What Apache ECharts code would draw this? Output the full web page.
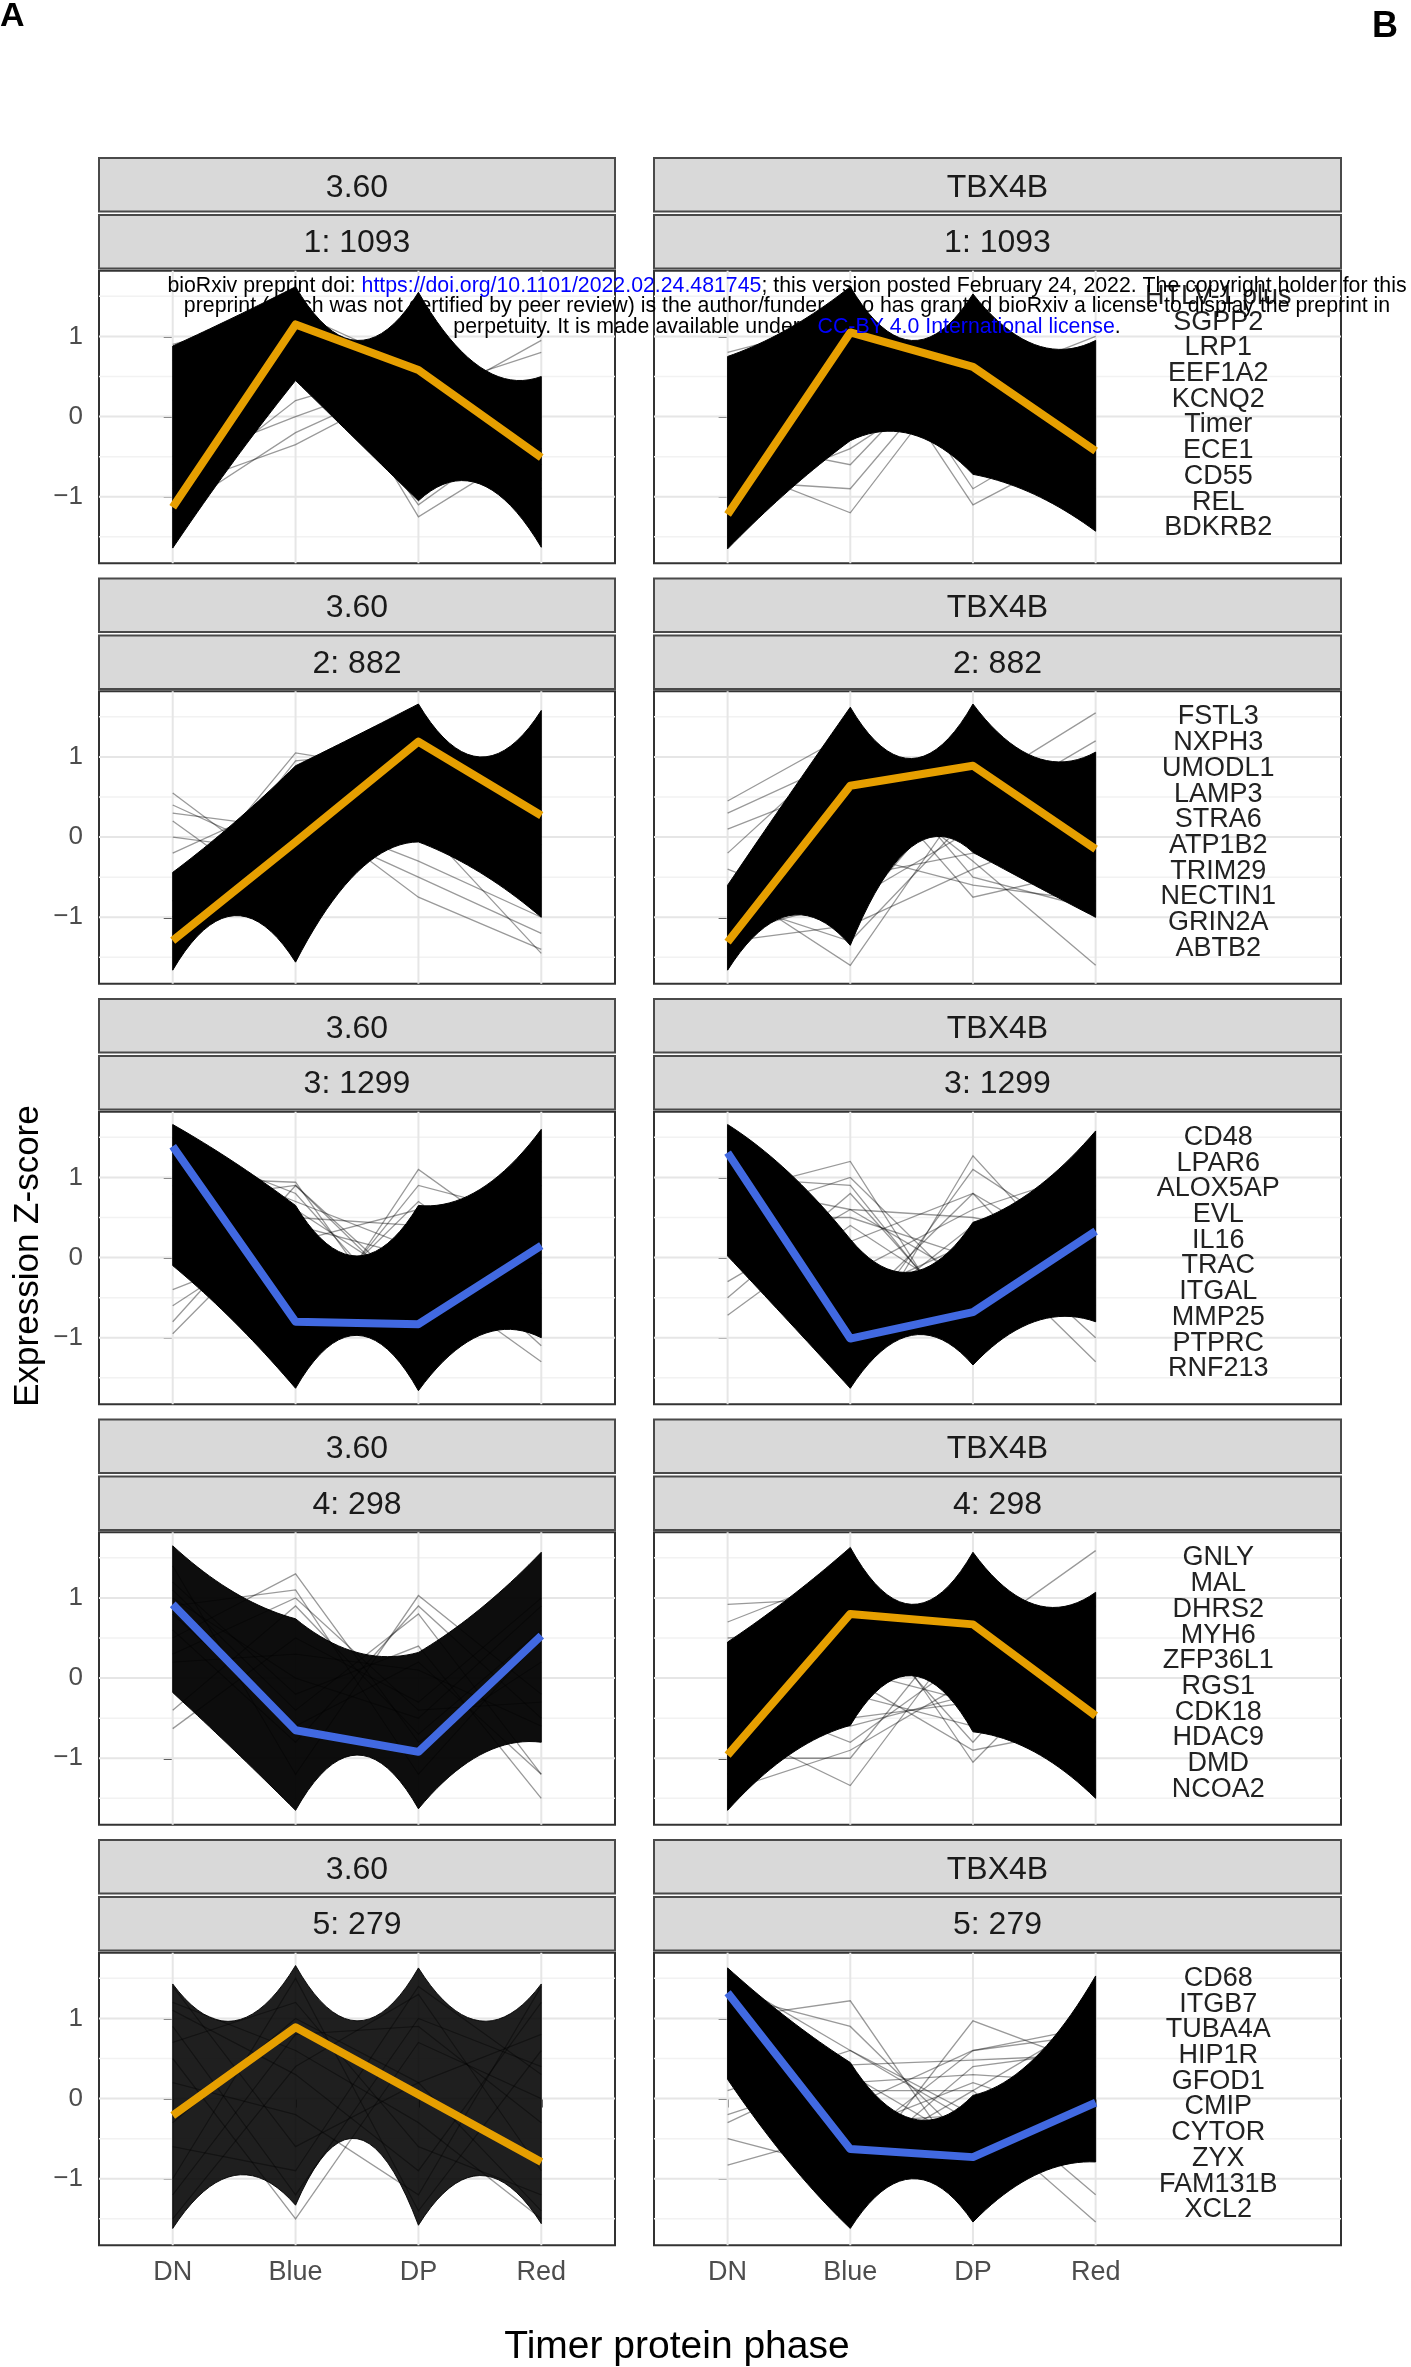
<!DOCTYPE html>
<html>
<head>
<meta charset="utf-8">
<script src="https://cdn.jsdelivr.net/npm/echarts@6/dist/echarts.min.js"></script>
<style>
  html, body { margin: 0; padding: 0; background: #ffffff; }
  #chart { width: 1411px; height: 2367px; }
</style>
</head>
<body>
<div id="chart"></div>
<script>
// ---- data ------------------------------------------------------------
const phases = ['DN', 'Blue', 'DP', 'Red'];
const groupNames = ['3.60', 'TBX4B'];
const clusterIds = [1, 2, 3, 4, 5];
const clusterSizes = [1093, 882, 1299, 298, 279];
const yTickValues = [-1, 0, 1];
const yGridValues = [-1.5, -1, -0.5, 0, 0.5, 1, 1.5];
const envelopeX = [0, 0.5, 1, 1.5, 2, 2.5, 3];

// top genes listed beside each cluster
const genes1 = ['HTLV-1 plus', 'SGPP2', 'LRP1', 'EEF1A2', 'KCNQ2', 'Timer', 'ECE1', 'CD55', 'REL', 'BDKRB2'];
const genes2 = ['FSTL3', 'NXPH3', 'UMODL1', 'LAMP3', 'STRA6', 'ATP1B2', 'TRIM29', 'NECTIN1', 'GRIN2A', 'ABTB2'];
const genes3 = ['CD48', 'LPAR6', 'ALOX5AP', 'EVL', 'IL16', 'TRAC', 'ITGAL', 'MMP25', 'PTPRC', 'RNF213'];
const genes4 = ['GNLY', 'MAL', 'DHRS2', 'MYH6', 'ZFP36L1', 'RGS1', 'CDK18', 'HDAC9', 'DMD', 'NCOA2'];
const genes5 = ['CD68', 'ITGB7', 'TUBA4A', 'HIP1R', 'GFOD1', 'CMIP', 'CYTOR', 'ZYX', 'FAM131B', 'XCL2'];

// cluster mean profiles (DN, Blue, DP, Red)
const mean1_360 = [-1.13, 1.15, 0.58, -0.51];
const mean1_tbx = [-1.22, 1.05, 0.62, -0.43];
const mean2_360 = [-1.29, -0.06, 1.19, 0.27];
const mean2_tbx = [-1.31, 0.64, 0.89, -0.15];
const mean3_360 = [1.39, -0.80, -0.83, 0.15];
const mean3_tbx = [1.31, -1.01, -0.68, 0.33];
const mean4_360 = [0.92, -0.65, -0.92, 0.53];
const mean4_tbx = [-0.96, 0.80, 0.67, -0.47];
const mean5_360 = [-0.21, 0.89, 0.05, -0.79];
const mean5_tbx = [1.32, -0.63, -0.73, -0.05];

// upper / lower edge of the dense gene bundle, at envelopeX
const upper1_360 = [0.88, 1.24, 1.62, 0.95, 1.55, 0.62, 0.50];
const lower1_360 = [-1.64, -0.55, 0.45, -0.30, -1.05, -0.84, -1.63];
const upper1_tbx = [0.75, 1.10, 1.62, 0.95, 1.53, 0.90, 0.95];
const lower1_tbx = [-1.65, -0.92, -0.30, -0.22, -0.72, -0.97, -1.43];
const upper2_360 = [-0.44, 0.18, 0.89, 1.27, 1.66, 1.00, 1.58];
const lower2_360 = [-1.66, -0.98, -1.56, -0.44, -0.06, -0.44, -1.00];
const upper2_tbx = [-0.60, 0.52, 1.62, 0.98, 1.66, 1.00, 1.06];
const lower2_tbx = [-1.66, -0.98, -1.35, -0.12, -0.19, -0.60, -1.00];
const upper3_360 = [1.66, 1.19, 0.65, 0.02, 0.65, 0.85, 1.60];
const lower3_360 = [-0.10, -0.80, -1.63, -0.97, -1.66, -0.97, -1.00];
const upper3_tbx = [1.66, 1.06, 0.23, -0.18, 0.44, 0.85, 1.58];
const lower3_tbx = [0.02, -0.80, -1.63, -0.97, -1.34, -0.80, -0.80];
const upper4_360 = [1.65, 1.07, 0.74, 0.32, 0.32, 0.86, 1.57];
const lower4_360 = [-0.18, -0.90, -1.65, -0.96, -1.63, -0.96, -0.80];
const upper4_tbx = [0.45, 1.00, 1.63, 0.92, 1.57, 0.92, 1.07];
const lower4_tbx = [-1.65, -0.96, -0.59, 0.03, -0.67, -0.92, -1.50];
const upper5_360 = [1.43, 0.97, 1.66, 0.97, 1.63, 0.97, 1.43];
const lower5_360 = [-1.62, -0.96, -1.33, -0.50, -1.58, -0.96, -1.56];
const upper5_tbx = [1.63, 0.99, 0.45, -0.25, 0.04, 0.50, 1.53];
const lower5_tbx = [0.24, -0.79, -1.62, -1.00, -1.54, -0.96, -0.79];

// individual genes outside the dense bundle (DN, Blue, DP, Red)
const lines1_360 = [
  [0.9, 1.3, 0.6, -0.6], [0.7, 1.0, 0.2, -1.0], [-0.9, -0.35, 0.45, -0.6],
  [-1.2, -0.2, 0.5, -0.9], [-0.6, 0.0, 0.55, -0.8], [-1.0, 0.2, 0.65, -0.4],
  [0.2, 1.3, -1.25, -0.3], [0.5, 1.0, -1.1, 0.0], [-0.5, 1.2, -0.9, -0.4],
  [-1.0, 0.9, 0.1, 0.95], [-0.8, 1.0, 0.3, 0.8]
];
const lines1_tbx = [
  [0.8, 1.2, 0.2, -0.6], [0.6, 1.5, -0.2, -0.9], [0.3, 0.9, 0.5, -1.0],
  [-0.6, -1.2, 0.8, 0.3], [-0.8, -0.9, 0.9, 0.0], [-0.3, -0.6, 1.0, 0.1],
  [-1.0, -0.4, 0.6, -0.5], [-0.5, 1.2, -1.1, -0.3], [-0.2, 1.4, -0.9, 0.0],
  [-1.1, 0.9, 0.4, 1.0]
];
const lines2_360 = [
  [0.55, -0.6, 1.0, 0.5], [0.4, -0.3, 1.2, 0.3], [0.2, -0.9, 1.1, 0.6],
  [0.0, -0.2, 1.3, 0.2], [-0.2, 0.5, 1.0, -0.1], [0.3, 0.1, 1.1, 0.0],
  [-0.8, 1.05, 0.8, 0.4], [-1.0, 0.95, 1.1, -0.2], [-1.2, 0.4, -0.75, -1.4],
  [-1.0, 0.2, -0.5, -1.2], [-1.4, 0.3, -0.3, -1.0], [-0.8, 0.0, 0.2, -1.45]
];
const lines2_tbx = [
  [0.45, 1.3, 0.5, -0.8], [0.3, 1.0, 0.8, -1.0], [0.1, 0.7, 1.0, -0.5],
  [-0.2, 1.2, 0.3, -0.3], [-0.6, -1.6, 0.6, 0.9], [-0.8, -1.3, 0.3, 1.2],
  [-0.4, -1.0, 0.8, 0.7], [-1.2, 1.0, -0.75, -0.4], [-1.0, 1.3, -0.5, -0.9],
  [-1.4, 0.9, -0.3, -1.6], [-1.3, 0.5, 0.6, 1.55], [-1.0, -0.5, -0.2, -0.6],
  [-1.2, -0.8, 0.1, -0.3], [-0.9, -0.2, -0.6, -0.8], [-1.3, -1.1, -0.4, 0.2],
  [-0.7, -0.4, 0.3, -1.0]
];
const lines3_360 = [
  [-0.95, 0.6, -0.4, 0.8], [-0.8, 0.9, -0.6, 0.5], [-0.6, 0.4, 0.0, 0.9],
  [-0.4, 0.2, -0.8, 1.2], [1.0, 0.94, -1.2, 0.3], [1.4, 0.8, -0.9, -0.2],
  [0.7, 0.9, -0.5, 0.0], [1.2, -1.2, 1.1, 0.0], [0.8, -1.0, 0.9, 0.5],
  [1.5, -0.8, 0.7, -0.4], [1.3, -0.6, -0.2, -1.3], [0.9, -0.9, 0.3, -1.1],
  [1.1, 0.5, 0.4, 0.9], [0.4, 0.2, 0.6, -0.2], [1.3, 0.7, 0.1, -0.5]
];
const lines3_tbx = [
  [-0.72, 0.4, -0.6, 0.9], [-0.5, 0.8, -0.9, 0.6], [-0.3, 0.6, -0.3, 1.0],
  [0.8, 1.2, -1.2, -0.3], [1.0, 0.9, -1.0, 0.2], [0.5, 1.0, -0.5, -0.6],
  [1.4, -1.3, 1.27, -0.4], [1.0, -1.0, 1.1, 0.1], [1.2, -0.7, 0.8, -0.8],
  [1.3, -0.5, 0.2, -1.3], [1.0, -0.8, 0.4, -1.0], [0.9, 0.6, 0.5, 0.2],
  [1.1, 0.2, 0.8, -0.1], [0.5, 0.5, 0.0, 0.6], [1.3, -0.2, 0.6, 1.1]
];
const lines4_360 = [
  [-0.63, 0.5, -0.3, 1.0], [-0.4, 0.9, -0.7, 0.6], [0.5, 1.3, -0.8, 0.2],
  [0.9, 1.1, -1.2, 0.5], [0.3, 1.0, -0.4, -0.3], [1.4, -1.2, 1.03, -0.2],
  [0.6, -0.8, 0.9, -0.5], [1.1, -0.4, 0.8, -1.2], [1.2, -0.2, 0.4, -1.5],
  [0.8, -0.6, 0.2, -1.2], [0.2, 0.3, 0.1, -0.6], [1.0, 0.0, -0.5, 0.9]
];
const lines4_tbx = [
  [0.92, 1.0, 0.4, -1.2], [0.7, 1.3, 0.0, -0.8], [0.5, 0.6, 0.9, -1.4],
  [-0.6, -1.34, 0.7, 0.9], [-1.0, -1.0, 0.9, 0.3], [-0.2, -0.8, 0.3, 1.0],
  [-1.4, 1.2, -1.05, 0.5], [-1.0, 0.9, -0.8, 0.9], [-1.2, 0.4, 0.5, 1.59],
  [0.2, 0.1, -0.3, 0.6], [-1.2, -0.5, -0.3, 0.2], [-0.8, -0.2, -0.6, -0.4],
  [-1.4, -0.9, 0.0, -0.8], [-0.5, -0.6, -0.2, -1.1], [-1.0, 0.0, -0.9, -0.6]
];
const lines5_360 = [
  [1.4, -0.6, 0.2, 0.8], [1.1, 0.3, -0.9, 1.2], [0.9, -1.2, 1.0, 0.4],
  [-1.5, 0.4, 1.3, -0.9], [-1.0, 1.5, -1.4, 0.6], [0.5, -1.5, 0.7, 0.0],
  [-0.3, 1.0, 0.2, -1.4], [0.2, -0.2, -1.2, 1.4], [-1.2, 0.8, 0.9, -0.3],
  [0.7, 1.2, -0.6, -1.2], [-0.6, -0.9, 1.4, 0.3], [1.2, 0.6, -0.3, -1.5]
];
const lines5_tbx = [
  [-0.83, -0.4, 0.2, -0.3], [-0.5, -0.9, 0.4, 0.6], [-0.2, 0.3, -0.6, -0.1],
  [0.1, 0.6, -0.2, 0.0], [1.0, 1.22, -1.0, 0.1], [1.3, 0.9, -0.6, -0.5],
  [1.5, -1.0, 0.97, 0.4], [1.2, -0.6, 0.6, 0.9], [-0.3, 0.42, 0.48, 0.55],
  [1.4, -0.3, -0.2, -1.54], [1.0, -0.8, 0.1, -1.2], [1.2, 0.2, 0.3, 0.2],
  [0.8, -0.1, 0.6, 0.8], [1.5, 0.6, -0.3, -0.2], [0.6, 0.1, 0.1, 1.0]
];

// ---- layout & style --------------------------------------------------
const ORANGE = '#E69F00';
const BLUE = '#4169E1';
const FONT = '"Liberation Sans", Arial, Helvetica, sans-serif';
const PLOT_TOP = 270.7, ROW_STEP = 420.5, PLOT_H = 292.6;
const STRIP1_OFF = 112.7, STRIP2_OFF = 55.7, STRIP_H = 53.5;
const COLS = [
  { x: 99, w: 516, xMax: 3.6 },
  { x: 654, w: 687, xMax: 5.0 }
];
const Y_MIN = -1.83, Y_MAX = 1.82;
const LABEL_X = 4, LABEL_TOP = 1.5, LABEL_STEP = 0.321;

const panels = [
  { row: 0, col: 0, mean: mean1_360, up: upper1_360, lo: lower1_360, lines: lines1_360, color: ORANGE },
  { row: 0, col: 1, mean: mean1_tbx, up: upper1_tbx, lo: lower1_tbx, lines: lines1_tbx, color: ORANGE, genes: genes1 },
  { row: 1, col: 0, mean: mean2_360, up: upper2_360, lo: lower2_360, lines: lines2_360, color: ORANGE },
  { row: 1, col: 1, mean: mean2_tbx, up: upper2_tbx, lo: lower2_tbx, lines: lines2_tbx, color: ORANGE, genes: genes2 },
  { row: 2, col: 0, mean: mean3_360, up: upper3_360, lo: lower3_360, lines: lines3_360, color: BLUE },
  { row: 2, col: 1, mean: mean3_tbx, up: upper3_tbx, lo: lower3_tbx, lines: lines3_tbx, color: BLUE, genes: genes3 },
  { row: 3, col: 0, mean: mean4_360, up: upper4_360, lo: lower4_360, lines: lines4_360, color: BLUE, fillOpacity: 0.95 },
  { row: 3, col: 1, mean: mean4_tbx, up: upper4_tbx, lo: lower4_tbx, lines: lines4_tbx, color: ORANGE, genes: genes4 },
  { row: 4, col: 0, mean: mean5_360, up: upper5_360, lo: lower5_360, lines: lines5_360, color: ORANGE, fillOpacity: 0.88 },
  { row: 4, col: 1, mean: mean5_tbx, up: upper5_tbx, lo: lower5_tbx, lines: lines5_tbx, color: BLUE, genes: genes5 }
];

// Edge of the bundle between two phases: the max/min of many straight
// profiles bows inwards, so each gap is drawn as a quadratic arc through
// the value read half-way between the phases.
function bundleEdge(api, xs, vs) {
  const P = xs.map((x, i) => api.coord([x, vs[i]]));
  const out = [P[0]];
  for (let s = 0; s + 2 < P.length; s += 2) {
    const p0 = P[s], m = P[s + 1], p2 = P[s + 2];
    const c = [2 * m[0] - (p0[0] + p2[0]) / 2, 2 * m[1] - (p0[1] + p2[1]) / 2];
    for (let k = 1; k <= 20; k++) {
      const t = k / 20, a = (1 - t) * (1 - t), b = 2 * (1 - t) * t, d = t * t;
      out.push([a * p0[0] + b * c[0] + d * p2[0], a * p0[1] + b * c[1] + d * p2[1]]);
    }
  }
  return out;
}

const grids = [], xAxes = [], yAxes = [], series = [], graphics = [];
const lastRow = clusterIds.length - 1;

panels.forEach((p, gi) => {
  const col = COLS[p.col];
  const top = PLOT_TOP + p.row * ROW_STEP;
  grids.push({
    left: col.x, top: top, width: col.w, height: PLOT_H,
    show: true, backgroundColor: '#ffffff', borderColor: '#333333', borderWidth: 2
  });
  const isBottom = p.row === lastRow;
  xAxes.push({
    gridIndex: gi, type: 'value', min: -0.6, max: col.xMax,
    axisLine: { show: false },
    splitLine: { show: false },
    axisTick: { show: isBottom, customValues: [0, 1, 2, 3], length: 9, lineStyle: { color: '#333333', width: 2 } },
    axisLabel: {
      show: isBottom, customValues: [0, 1, 2, 3], margin: 14,
      formatter: v => phases[Math.round(v)] || '',
      color: '#4D4D4D', fontSize: 27, fontFamily: FONT
    }
  });
  yAxes.push({
    gridIndex: gi, type: 'value', min: Y_MIN, max: Y_MAX,
    axisLine: { show: false },
    splitLine: { show: false },
    axisTick: { show: true, customValues: yTickValues, length: 9, lineStyle: { color: '#333333', width: 2 } },
    axisLabel: {
      show: p.col === 0, customValues: yTickValues, margin: 16,
      formatter: v => (v < 0 ? '\u2212' + Math.abs(v) : String(v)),
      color: '#4D4D4D', fontSize: 26, fontFamily: FONT
    }
  });

  // background grid: horizontal at every half unit, vertical at each phase
  series.push({
    type: 'custom', xAxisIndex: gi, yAxisIndex: gi, silent: true, z: 1,
    data: yGridValues.map(v => [v]),
    renderItem: (params, api) => {
      const cs = params.coordSys;
      const v = api.value(0);
      const y = api.coord([0, v])[1];
      const major = Number.isInteger(v);
      return {
        type: 'line',
        shape: { x1: cs.x, y1: y, x2: cs.x + cs.width, y2: y },
        style: { stroke: major ? '#E6E6E6' : '#F2F2F2', lineWidth: major ? 2 : 1.5 }
      };
    }
  });
  series.push({
    type: 'custom', xAxisIndex: gi, yAxisIndex: gi, silent: true, z: 1,
    data: phases.map((_, i) => [i]),
    renderItem: (params, api) => {
      const cs = params.coordSys;
      const x = api.coord([api.value(0), 0])[0];
      return {
        type: 'line',
        shape: { x1: x, y1: cs.y, x2: x, y2: cs.y + cs.height },
        style: { stroke: '#E6E6E6', lineWidth: 2 }
      };
    }
  });

  // outlying single-gene profiles
  series.push({
    type: 'custom', xAxisIndex: gi, yAxisIndex: gi, silent: true, z: 2,
    data: p.lines,
    renderItem: (params, api) => {
      const pts = phases.map((_, k) => api.coord([k, api.value(k)]));
      return {
        type: 'polyline', shape: { points: pts },
        style: { stroke: '#000000', lineWidth: 1.3, opacity: 0.4, fill: null }
      };
    }
  });

  // dense bundle of gene profiles
  series.push({
    type: 'custom', xAxisIndex: gi, yAxisIndex: gi, silent: true, z: 3,
    data: [[0]],
    renderItem: (params, api) => {
      const upperPts = bundleEdge(api, envelopeX, p.up);
      const lowerPts = bundleEdge(api, envelopeX, p.lo).reverse();
      return {
        type: 'polygon', shape: { points: upperPts.concat(lowerPts) },
        style: { fill: '#000000', stroke: '#000000', lineWidth: 1, opacity: p.fillOpacity || 1 }
      };
    }
  });

  // cluster mean
  series.push({
    type: 'line', xAxisIndex: gi, yAxisIndex: gi, z: 5, silent: true,
    data: p.mean.map((v, i) => [i, v]),
    symbol: 'none',
    lineStyle: { color: p.color, width: 8, cap: 'butt', join: 'round' }
  });

  // gene names beside the right-hand panels
  if (p.genes) {
    series.push({
      type: 'custom', xAxisIndex: gi, yAxisIndex: gi, silent: true, z: 4,
      data: p.genes.map((g, i) => [LABEL_X, LABEL_TOP - i * LABEL_STEP, g]),
      renderItem: (params, api) => {
        const pt = api.coord([api.value(0), api.value(1)]);
        return {
          type: 'text', x: pt[0], y: pt[1],
          style: {
            text: p.genes[params.dataIndex], fill: '#222222',
            font: '27px ' + FONT, align: 'center', verticalAlign: 'middle',
            textAlign: 'center', textVerticalAlign: 'middle'
          }
        };
      }
    });
  }

  // facet strips
  const stripTexts = [groupNames[p.col], clusterIds[p.row] + ': ' + clusterSizes[p.row]];
  const textShift = [3, 1.5];
  [STRIP1_OFF, STRIP2_OFF].forEach((off, si) => {
    const sy = top - off;
    graphics.push({
      type: 'rect', z: 10,
      shape: { x: col.x, y: sy, width: col.w, height: STRIP_H },
      style: { fill: '#D9D9D9', stroke: '#4A4A4A', lineWidth: 2 }
    });
    graphics.push({
      type: 'text', z: 11, x: col.x + col.w / 2, y: sy + STRIP_H / 2 + textShift[si],
      style: {
        text: stripTexts[si], fill: '#1A1A1A', font: '32px ' + FONT,
        align: 'center', verticalAlign: 'middle', textAlign: 'center', textVerticalAlign: 'middle'
      }
    });
  });
});

// axis titles
graphics.push({
  type: 'text', z: 11, x: 677, y: 2347,
  style: {
    text: 'Timer protein phase', fill: '#000000', font: '39px ' + FONT,
    align: 'center', verticalAlign: 'middle', textAlign: 'center', textVerticalAlign: 'middle'
  }
});
graphics.push({
  type: 'text', z: 11, x: 28, y: 1256, rotation: Math.PI / 2,
  style: {
    text: 'Expression Z-score', fill: '#000000', font: '35px ' + FONT,
    align: 'center', verticalAlign: 'middle', textAlign: 'center', textVerticalAlign: 'middle'
  }
});

// figure panel letters
graphics.push({
  type: 'text', z: 11, x: 0, y: 0,
  style: { text: 'A', fill: '#000000', font: 'bold 34px ' + FONT, align: 'left', verticalAlign: 'top', textAlign: 'left', textVerticalAlign: 'top' }
});
graphics.push({
  type: 'text', z: 11, x: 1372, y: 9,
  style: { text: 'B', fill: '#000000', font: 'bold 36px ' + FONT, align: 'left', verticalAlign: 'top', textAlign: 'left', textVerticalAlign: 'top' }
});

// preprint notice
const noticeRich = {
  k: { fill: '#000000', font: '21.3px ' + FONT },
  u: { fill: '#0000FF', font: '21.3px ' + FONT }
};
const noticeLines = [
  '{k|bioRxiv preprint doi: }{u|https://doi.org/10.1101/2022.02.24.481745}{k|; this version posted February 24, 2022. The copyright holder for this}',
  '{k|preprint (which was not certified by peer review) is the author/funder, who has granted bioRxiv a license to display the preprint in}',
  '{k|perpetuity. It is made available under a}{u|CC-BY 4.0 International license}{k|.}'
];
[286, 306, 327].forEach((y, i) => {
  graphics.push({
    type: 'text', z: 20, x: 787, y: y,
    style: {
      text: noticeLines[i], rich: noticeRich, font: '21.3px ' + FONT,
      align: 'center', verticalAlign: 'middle', textAlign: 'center', textVerticalAlign: 'middle'
    }
  });
});

const chart = echarts.init(document.getElementById('chart'), null, { renderer: 'canvas' });
chart.setOption({
  animation: false,
  backgroundColor: '#ffffff',
  grid: grids,
  xAxis: xAxes,
  yAxis: yAxes,
  series: series,
  graphic: { elements: graphics }
});
</script>
</body>
</html>
